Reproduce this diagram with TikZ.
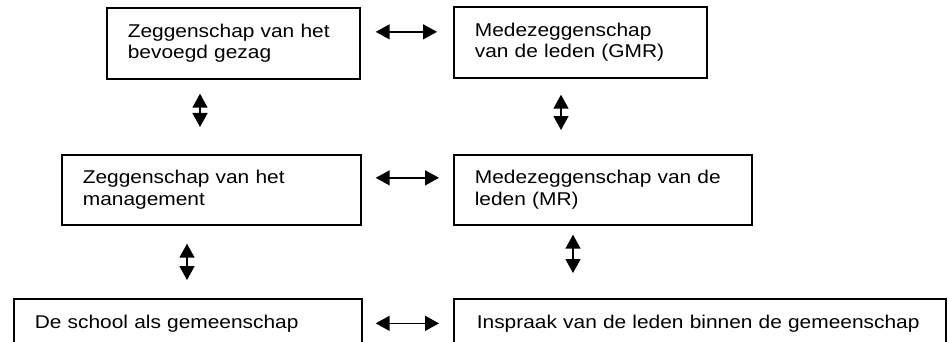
\documentclass[tikz,border=0pt]{standalone}
\usepackage{fontspec}
\setmainfont{Liberation Sans}[FakeStretch=1.13]
\usetikzlibrary{arrows.meta}

\begin{document}
\begin{tikzpicture}[
    x=1pt, y=-1pt,
    % GLOBAL CFG
    font=\fontsize{18.5pt}{21.7pt}\selectfont,
    >={Triangle[length=14pt,width=15pt]},
    % Styles
    box/.style={% For the boxes
        rectangle,
        draw,
        line width=1.7pt,
        anchor=north west,
        align=left,
        inner xsep=21pt,
        inner ysep=0pt,
        minimum height=71pt,
        },
    link/.style={% Double arrows between the boxes
        <->,
        line width=1.5pt,
        },
    ]

    % Fix the frame, the bottom boxes run out of it
    \clip (0,0) rectangle (949,342);

    % Draw the boxes, top row
    \node [box, text width=211pt] (bevoegd) at (106,7) {Zeggenschap van het\\bevoegd gezag};
    \node [box, text width=211pt] (gmr) at (453,6) {Medezeggenschap\\van de leden (GMR)};

    % Middle row
    \node [box, text width=257pt, minimum height=70pt] (management) at (61,154) {Zeggenschap van het\\management};
    \node [box, text width=256pt, minimum height=70pt] (mr) at (453,154) {Medezeggenschap van de\\leden (MR)};

    % Bottom row
    \node [box, text width=306pt, minimum height=49pt] (school) at (13,298) {De school als gemeenschap};
    \node [box, text width=446pt, inner xsep=23pt, minimum height=49pt] (inspraak) at (453,298) {Inspraak van de leden binnen de gemeenschap};

% Connect the boxes
    % Across
    \draw [link, shorten <=15pt, shorten >=16pt] ([yshift=11.5pt]bevoegd.east) -- ([yshift=11.5pt]bevoegd.east -| gmr.west);
    \draw [link, shorten <=14pt, shorten >=14pt] ([yshift=12pt]management.east) -- ([yshift=12pt]management.east -| mr.west);
    \draw [link, shorten <=13pt, shorten >=14pt] (school.east) -- (school.east -| inspraak.west);

    % Down
    \draw [link, shorten <=14pt, shorten >=27pt] ([xshift=94pt]bevoegd.south west) -- ([xshift=94pt]bevoegd.south west |- management.north);
    \draw [link, shorten <=16pt, shorten >=24pt] ([xshift=108pt]gmr.south west) -- ([xshift=108pt]gmr.south west |- mr.north);
    \draw [link, shorten <=18pt, shorten >=18pt] ([xshift=126pt]management.south west) -- ([xshift=126pt]management.south west |- school.north);
    \draw [link, shorten <=9pt, shorten >=25pt] ([xshift=120pt]mr.south west) -- ([xshift=120pt]mr.south west |- inspraak.north);

\end{tikzpicture}
\end{document}
